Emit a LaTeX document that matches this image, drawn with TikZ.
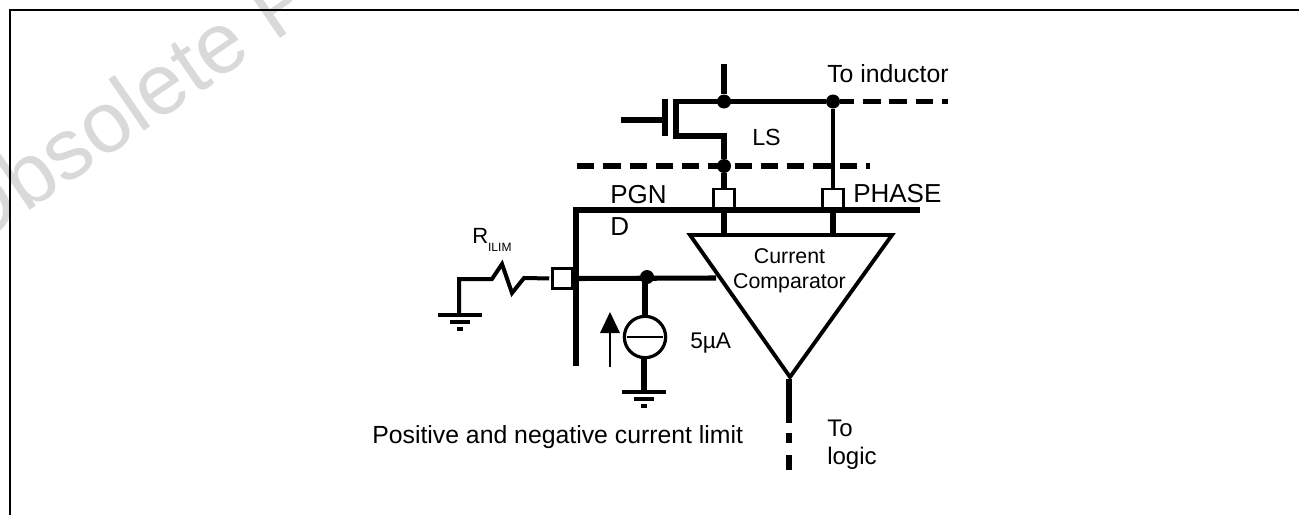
\documentclass[tikz,border=0pt]{standalone}
\usepackage{fontspec}
\setmainfont{Liberation Sans}
\tikzset{
	x=0.75pt, y=-0.75pt,
	txt/.style={inner sep=0pt, font=\fontsize{18.6}{24}\selectfont, align=left},
	wire/.style={line width=3.8pt},
	thinwire/.style={line width=2.8pt},
	dot/.style={circle, fill=black, inner sep=0pt, minimum size=10.5pt},
	pinbox/.style={draw, line width=1.9pt, fill=white, inner sep=0pt, minimum width=16pt, minimum height=15pt},
	dashwire/.style={wire, dash pattern=on 13pt off 6.7pt}
}
\begin{document}
\begin{tikzpicture}
	\useasboundingbox (0,0) rectangle (1299,515);
	% watermark
	\begin{scope}
		\clip (0,0) rectangle (1299,515);
		\node[anchor=base west, inner sep=0pt, rotate=34.5, text=black!15, font=\fontsize{64.7}{65}\selectfont] (mark) at (-30.3,251.5) {Obsolete P};
	\end{scope}
	% frame
	\draw[line width=1.5pt] (10,515) -- (10,10) -- (1299,10);

	% points of the circuit
	\coordinate (vtop) at (724,64);
	\coordinate (chtop) at (676,101.5);
	\coordinate (chbot) at (676,136);
	\coordinate (drain) at (724,136);
	\coordinate (gatetop) at (665,99);
	\coordinate (gatebot) at (665,136);
	\coordinate (gatemid) at (665,120);
	\coordinate (gatein) at (621,120);
	\coordinate (indend) at (948,101.5);
	\coordinate (pgl) at (577,166);
	\coordinate (pgr) at (870,166);
	\coordinate (busc) at (576,210);
	\coordinate (busr) at (920,210);
	\coordinate (busb) at (576,366);
	\coordinate (cmpl) at (690,235);
	\coordinate (cmpr) at (892,235);
	\coordinate (cmpb) at (790,377);
	\coordinate (outa) at (789,379);
	\coordinate (outb) at (789,423);
	\coordinate (outc) at (789,433);
	\coordinate (oute) at (789,443);
	\coordinate (outf) at (789,455);
	\coordinate (outd) at (789,470);
	\coordinate (cmpin) at (716,278);
	\coordinate (tapl) at (724,210);
	\coordinate (tapr) at (833,210);
	\coordinate (tapla) at (724,235);
	\coordinate (tapra) at (833,235);
	\coordinate (gnda) at (459,315);
	\coordinate (gndb) at (644,392);
	\coordinate (rl) at (492,279);

	\node[dot] (j1) at (724,101.5) {};
	\node[dot] (j2) at (833,101.5) {};
	\node[dot] (j3) at (724,166) {};
	\node[dot] (j4) at (647,277) {};

	% low side fet
	\draw[wire] (vtop) -- (j1);
	\draw[wire] (gatetop) -- (gatebot);
	\draw[wire] (gatein) -- (gatemid);
	\draw[wire, line join=miter] (j2) -- (chtop) -- (chbot) -- (drain) -- (j3);
	\draw[dashwire, dash phase=2.5pt] (j2) -- (indend);
	\draw[dashwire] (pgl) -- (pgr);

	% pins
	\node[pinbox] (pinpgnd) at (724,199) {};
	\node[pinbox] (pinphase) at (833,199) {};
	\node[pinbox, minimum width=15pt] (pinilim) at (562.5,278.5) {};
	\draw[wire] (j3) -- (pinpgnd.north);
	\draw[thinwire] (j2) -- (pinphase.north);
	\draw[wire, line join=miter] (busr) -- (busc) -- (busb);
	\draw[wire] (tapl) -- (tapla);
	\draw[wire] (tapr) -- (tapra);

	% comparator
	\draw[line width=2.9pt, line join=miter] (cmpl) -- (cmpr) -- (cmpb) -- cycle;
	\draw[wire] (outa) -- (outb);
	\draw[wire] (outc) -- (oute);
	\draw[wire] (outf) -- (outd);
	\draw[wire] (pinilim.east) -- (cmpin);

	% current source
	\node[draw, circle, line width=2.4pt, inner sep=0pt, minimum size=31pt] (src) at (645,337) {};
	\draw[wire] (src.north |- j4) -- (src.north);
	\draw[wire] (gndb |- src.south) -- (gndb);
	\draw[line width=1.1pt] ([xshift=3.5pt]src.west) -- ([xshift=-3.5pt]src.east);
	\draw[line width=1.1pt] (610,367) -- (610,330);
	\fill (610,312) -- (620,333) -- (600,333) -- cycle;

	% resistor
	\draw[line width=3pt, line join=miter, shorten >=1.5pt] (gnda) -- (459,279) -- (rl) -- (502,264) -- (512,293) -- (524,278) -- (pinilim.west);

	% grounds
	\foreach \gx/\gy in {460/315, 644/392} {
		\draw[line width=3.6pt] (\gx-22,\gy) -- (\gx+22,\gy);
		\draw[line width=3pt] (\gx-10,\gy+7) -- (\gx+10,\gy+7);
		\draw[line width=2.6pt] (\gx-3,\gy+14) -- (\gx+3,\gy+14);
	}

	% labels
	\node[txt, anchor=west] (lind) at (827,74) {To inductor};
	\node[txt, anchor=west, font=\fontsize{17.5}{22}\selectfont] (lls) at (752,137) {LS};
	\node[txt, anchor=north west, font=\fontsize{19.5}{24}\selectfont] (lpgnd) at (610,185) {PGN\\[0pt]D};
	\node[txt, anchor=west, font=\fontsize{19.5}{24}\selectfont] (lphase) at (853,194) {PHASE};
	\node[txt, align=center, font=\fontsize{16}{19}\selectfont] (lcmp) at (789.5,270.5) {Current\\Comparator};
	\node[txt, anchor=west, font=\fontsize{17}{20}\selectfont] (lsrc) at (690,343) {5µA};
	\node[txt, anchor=base west, font=\fontsize{16.5}{20}\selectfont] (lril) at (472,243) {R\raisebox{-6pt}{\fontsize{9}{10}\selectfont ILIM}};
	\node[txt, anchor=west] (lpos) at (372,437) {Positive and negative current limit};
	\node[txt, anchor=north west, font=\fontsize{18}{20.5}\selectfont] (llog) at (827,420) {To\\logic};
\end{tikzpicture}
\end{document}
